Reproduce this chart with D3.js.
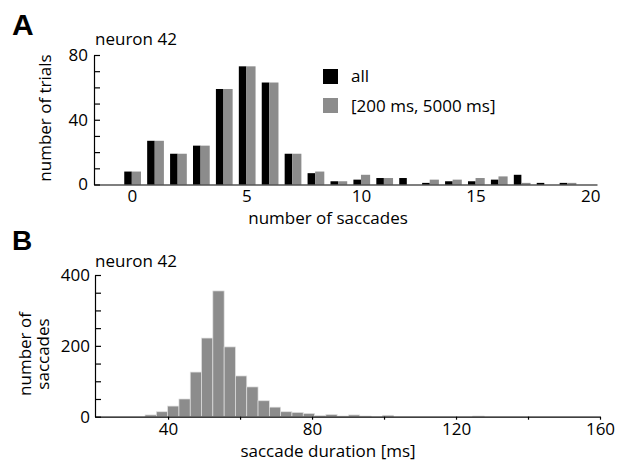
<!DOCTYPE html>
<html>
<head>
<meta charset="utf-8">
<script src="https://cdn.jsdelivr.net/npm/d3@7"></script>
<style>
  body { margin: 0; background: #fff; }
  text { font-family: "Open Sans", sans-serif; }
</style>
</head>
<body>
<svg id="svg_main" width="619" height="461"></svg>
<script>
// panel A: number of saccades per trial
var saccadeCounts = [0,1,2,3,4,5,6,7,8,9,10,11,12,13,14,15,16,17,18,19]
var trialsAll  = [8,27,19,24,59,73,63,19,7,2,3,4,4,1,2,2,3,6,1,1]
var trialsLong = [8,27,19,24,59,73,63,19,8,2,6,4,0,3,3,4,5,1,0,1]
var legendLabels = ['all','[200 ms, 5000 ms]']

// panel B: saccade duration histogram (bin edges in ms)
var durationEdges = [33.6,36.74,39.88,43.02,46.16,49.3,52.44,55.58,58.72,61.86,65.0,68.14,71.28,74.42,77.56,80.7,
                     83.84,86.98,90.12,93.26,96.4,99.54,102.68,105.82,108.96,112.1,115.24,118.38,121.52,124.66,127.8]
var durationCounts = [5,14,30,50,126,222,355,197,115,84,45,27,14,12,9,3,6,2,5,2,0,4,0,0,0,0,0,0,0,2]

var colBlack = '#000'
var colGray = '#8c8c8c'
var fontSize = 17

var svg = d3.select('#svg_main')

// ---------- panel A ----------
var xA = d3.scaleLinear().domain([-1.65, 20.3]).range([94, 597])
var yA = d3.scaleLinear().domain([0, 80]).range([184.5, 55])

var gA = svg.append('g')

var barsA = saccadeCounts.map(function(n, i){
    return {n: n, all: trialsAll[i], long: trialsLong[i]}
})

gA.selectAll('rect.all')
    .data(barsA.filter(function(d){ return d.all > 0 }))
    .enter().append('rect')
    .attr('class','all')
    .attr('x', function(d){ return xA(d.n - 0.33) })
    .attr('width', function(d){ return xA(d.n) - xA(d.n - 0.33) })
    .attr('y', function(d){ return yA(d.all) })
    .attr('height', function(d){ return yA(0) - yA(d.all) })
    .attr('fill', colBlack)

gA.selectAll('rect.long')
    .data(barsA.filter(function(d){ return d.long > 0 }))
    .enter().append('rect')
    .attr('class','long')
    .attr('x', function(d){ return xA(d.n) })
    .attr('width', function(d){ return xA(d.n + 0.4) - xA(d.n) })
    .attr('y', function(d){ return yA(d.long) })
    .attr('height', function(d){ return yA(0) - yA(d.long) })
    .attr('fill', colGray)

var axA_x = gA.append('g')
    .attr('transform', 'translate(0,' + yA(0) + ')')
    .call(d3.axisBottom(xA).tickValues([0,5,10,15,20]).tickSize(0).tickPadding(5))
var axA_y = gA.append('g')
    .attr('transform', 'translate(' + xA.range()[0] + ',0)')
    .call(d3.axisLeft(yA).tickValues(d3.range(0, 81, 10)).tickSize(-6).tickSizeOuter(0).tickPadding(6)
        .tickFormat(function(d){ return d % 40 === 0 ? d : '' }))

// legend
var legend = gA.append('g')
legendLabels.forEach(function(lab, i){
    legend.append('rect')
        .attr('x', 323).attr('y', 69 + i * 29)
        .attr('width', 15).attr('height', 15)
        .attr('fill', i === 0 ? colBlack : colGray)
    legend.append('text')
        .attr('x', 351).attr('y', 82 + i * 29.5)
        .attr('font-size', fontSize)
        .text(lab)
})

gA.append('text').attr('x', 95).attr('y', 44.5).attr('font-size', fontSize).text('neuron 42')
gA.append('text').attr('x', 328).attr('y', 224).attr('font-size', fontSize)
    .attr('text-anchor','middle').text('number of saccades')
gA.append('text').attr('transform','translate(51,118) rotate(-90)')
    .attr('font-size', fontSize).attr('text-anchor','middle').text('number of trials')
svg.append('text').attr('x', 12).attr('y', 35)
    .style('font-family','"Liberation Sans", Arial, sans-serif').attr('font-weight','bold')
    .attr('font-size', 30).text('A')

// ---------- panel B ----------
var xB = d3.scaleLinear().domain([19.7, 160]).range([95, 600])
var yB = d3.scaleLinear().domain([0, 400]).range([416.7, 275])

var gB = svg.append('g')

var binsB = durationCounts.map(function(c, i){
    return {x0: durationEdges[i], x1: durationEdges[i + 1], count: c}
})

gB.selectAll('rect.bin')
    .data(binsB.filter(function(d){ return d.count > 0 }))
    .enter().append('rect')
    .attr('class','bin')
    .attr('x', function(d){ return xB(d.x0) })
    .attr('width', function(d){ return xB(d.x1) - xB(d.x0) })
    .attr('y', function(d){ return yB(d.count) })
    .attr('height', function(d){ return yB(0) - yB(d.count) })
    .attr('fill', colGray)
    .attr('stroke', '#e0e0e0')
    .attr('stroke-width', 0.7)

var axB_x = gB.append('g')
    .attr('transform', 'translate(0,' + yB(0) + ')')
    .call(d3.axisBottom(xB).tickValues(d3.range(40, 161, 20)).tickSize(3).tickSizeOuter(0).tickPadding(3)
        .tickFormat(function(d){ return d % 40 === 0 ? d : '' }))
var axB_y = gB.append('g')
    .attr('transform', 'translate(' + xB.range()[0] + ',0)')
    .call(d3.axisLeft(yB).tickValues(d3.range(0, 401, 50)).tickSize(-6).tickSizeOuter(0).tickPadding(5)
        .tickFormat(function(d){ return d % 200 === 0 ? d : '' }))

gB.append('text').attr('x', 95).attr('y', 266.5).attr('font-size', fontSize).text('neuron 42')
gB.append('text').attr('x', 328).attr('y', 457).attr('font-size', fontSize)
    .attr('text-anchor','middle').text('saccade duration [ms]')
var ylabB = gB.append('text').attr('transform','translate(31,354) rotate(-90)')
    .attr('font-size', fontSize).attr('text-anchor','middle')
ylabB.append('tspan').attr('x', 0).attr('dy', 0).text('number of')
ylabB.append('tspan').attr('x', 0).attr('dy', 18).text('saccades')
svg.append('text').attr('x', 12).attr('y', 250)
    .style('font-family','"Liberation Sans", Arial, sans-serif').attr('font-weight','bold')
    .attr('font-size', 28).text('B')

// axis styling
svg.selectAll('.tick text')
    .attr('font-size', fontSize)
    .style('font-family','"Open Sans", sans-serif')
    .attr('fill', '#000')
svg.selectAll('.domain, .tick line').attr('stroke', '#000').attr('stroke-width', 1.2)
</script>
</body>
</html>
